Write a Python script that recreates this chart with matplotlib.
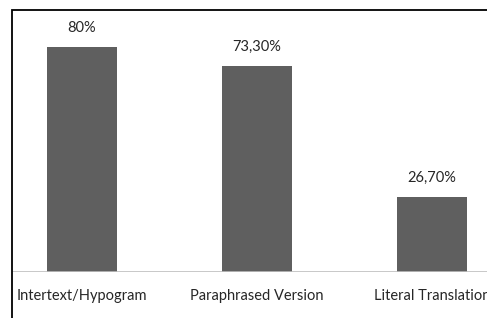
import matplotlib.pyplot as plt
from matplotlib.patches import Rectangle

categories = ['Intertext/Hypogram', 'Paraphrased Version', 'Literal Translation']
values = [80.0, 73.3, 26.7]
value_labels = ['80%', '73,30%', '26,70%']

W, H = 487, 318
fig = plt.figure(figsize=(W / 100, H / 100), dpi=100)
plt.rcParams['font.family'] = ['Lato', 'DejaVu Sans']

# outer chart border (cropped on the right and bottom)
fig.patches.append(Rectangle((12 / W, -0.1), 1.2, (H - 10) / H + 0.1,
                             transform=fig.transFigure, fill=False,
                             edgecolor='black', lw=1.3))

ax = fig.add_axes([12 / W, (H - 272) / H, (W - 12) / W, 262 / H])
x = range(len(categories))
ax.bar(x, values, width=0.4, color='#5f5f5f')
for xi, v, lab in zip(x, values, value_labels):
    ax.text(xi, v + 6.8, lab, ha='center', va='center', fontsize=10.5, color='#262626')

ax.set_xlim(-0.4, -0.4 + 475 / 175)
ax.set_ylim(0, 262 / 2.8125)
ax.axhline(0, color='#bfbfbf', lw=1.2)
for s in ax.spines.values():
    s.set_visible(False)
ax.set_yticks([])
ax.set_xticks(list(x))
ax.set_xticklabels(categories, fontsize=10.5, color='#262626')
ax.tick_params(axis='x', length=0, pad=12)
ax.patch.set_alpha(0)

fig.savefig('out.png', dpi=100)
